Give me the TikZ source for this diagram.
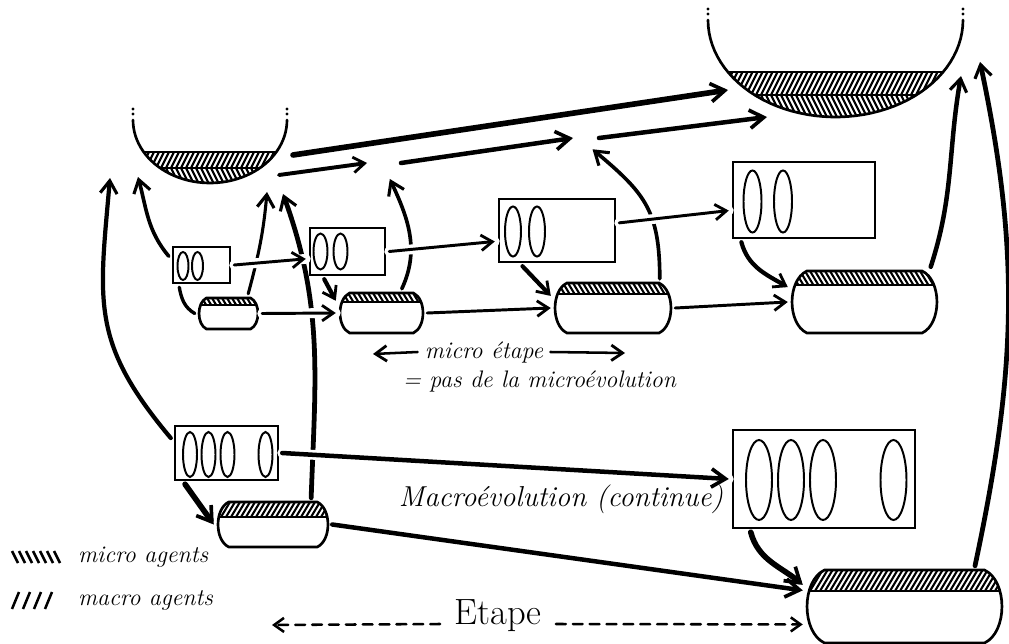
\documentclass[tikz,border=0pt]{standalone}
\usepackage{fontspec}
\usetikzlibrary{arrows.meta}

\tikzset{
  wh/.style 2 args={minimum width=#1*0.025cm, minimum height=#2*0.025cm,
    inner sep=0pt, outer sep=3pt},
  box/.style={draw, line width=2pt},
  agent/.style={line width=1.4pt},
  outline/.style={line width=1.9pt},
  hatch/.style={line width=1.5pt, line cap=butt},
  micro/.style={line width=2.1pt, -{Straight Barb[length=8pt, width=11pt, line width=2pt]}},
  macro/.style={line width=3.2pt, -{Straight Barb[length=10pt, width=13pt, line width=2.6pt]}},
  feed/.style={line width=2.6pt, -{Straight Barb[length=9pt, width=12pt, line width=2.2pt]}},
  over/.style={preaction={draw=white, line width=7pt, arrows=-}},
  dashline/.style={line width=1.8pt, dash pattern=on 7pt off 5pt,
    -{Straight Barb[length=7pt, width=10pt, line width=1.8pt]}},
  hand/.style={font=\itshape\fontsize{17}{19}\selectfont, inner sep=2pt},
}

% capsule: name, x, y, width, height, band, slope (1 = macro //, -1 = micro \\)
\newcommand{\capsule}[7]{%
  \node[wh={#4}{#5}] (#1) at (#2,#3) {};
  \pgfmathsetmacro\capL{#2-#4/2}\pgfmathsetmacro\capR{#2+#4/2}%
  \pgfmathsetmacro\capT{#3-#5/2}\pgfmathsetmacro\capB{#3+#5/2}%
  \pgfmathsetmacro\capD{0.24*#5}%
  \def\capShape{({\capL+\capD},\capT) -- ({\capR-\capD},\capT)
      .. controls ({\capR+0.33*\capD},{\capT+0.15*#5}) and ({\capR+0.33*\capD},{\capB-0.15*#5}) .. ({\capR-\capD},\capB)
      -- ({\capL+\capD},\capB)
      .. controls ({\capL-0.33*\capD},{\capB-0.15*#5}) and ({\capL-0.33*\capD},{\capT+0.15*#5}) .. ({\capL+\capD},\capT)
      -- cycle}%
  \begin{scope}
    \clip \capShape;
    \foreach \i in {0,...,45}
      \draw[hatch] ({\capL-12+\i*5},{\capT+#6*(1+(#7))/2}) -- ++({0.6*#6},{-1*(#7)*#6});
    \draw[outline] (\capL,{\capT+#6}) -- (\capR,{\capT+#6});
  \end{scope}
  \draw[outline] \capShape;
}

% bowl: name, centre x, rim y, x radius, depth, band top, band split
\newcommand{\bowl}[7]{%
  \node[wh={2*#4}{#5}] (#1) at (#2,{#3+#5/2}) {};
  \begin{scope}
    \clip plot[domain=0:180, samples=50] ({#2+#4*cos(\x)},{#3+#5*sin(\x)}) -- cycle;
    \foreach \i in {0,...,70} {
      \draw[hatch] ({#2-#4-12+\i*5},#7) -- ++({0.5*(#7-#6)},{#6-#7});
      \draw[hatch] ({#2-#4-12+\i*5},#7) -- ++({0.5*(#3+#5-#7)},{#3+#5-#7});
    }
    \draw[outline] ({#2-#4},#6) -- ({#2+#4},#6);
    \draw[line width=1.2pt] ({#2-#4},#7) -- ({#2+#4},#7);
  \end{scope}
  \draw[outline] plot[domain=0:180, samples=50] ({#2+#4*cos(\x)},{#3+#5*sin(\x)});
  \foreach \s in {-1,1}
    \fill ({#2+\s*#4},{#3-6}) circle[radius=1.6] ({#2+\s*#4},{#3-11}) circle[radius=1.6];
}

\begin{document}
\begin{tikzpicture}[x=0.025cm, y=-0.025cm, line cap=round]
\path[use as bounding box, fill=white] (0,0) rectangle (1009,644);

% aggregate states
\bowl{bowl1}{210}{120}{77}{63}{152}{168}
\bowl{bowl2}{835.5}{20}{127.5}{97}{72}{95}
\coordinate (bowl1-l) at (110,178);
\coordinate (bowl1-a) at (138,177);
\coordinate (bowl1-c) at (267,192);
\coordinate (bowl1-g) at (283,194);
\coordinate (bowl1-o) at (279,175);
\coordinate (bowl1-t) at (293,155);
\coordinate (bowl2-t) at (728,90);
\coordinate (bowl2-m) at (767,117);
\coordinate (bowl2-c) at (961,76);
\coordinate (bowl2-r) at (980,62);
\node[circle, wh={34}{34}, outer sep=0pt] (s1) at (384,163) {};
\node[circle, wh={26}{26}, outer sep=0pt] (s2) at (586,138) {};

% micro populations
\node[box, wh={57}{36}] (mb1) at (201.5,265) {};
\foreach \ax in {183,197.5} \draw[agent] (\ax,266) ellipse[x radius=5.5, y radius=14];
\node[box, wh={75}{47}] (mb2) at (347.5,251.5) {};
\foreach \ax in {320.5,340.5} \draw[agent] (\ax,251.5) ellipse[x radius=7, y radius=18];
\node[box, wh={116}{63}] (mb3) at (557,230.5) {};
\foreach \ax in {513,537} \draw[agent] (\ax,231.5) ellipse[x radius=8, y radius=25];
\node[box, wh={142}{76}] (mb4) at (804,200) {};
\foreach \ax in {752.5,783} \draw[agent] (\ax,201.5) ellipse[x radius=9, y radius=31];

\capsule{mc1}{228.5}{313.5}{59}{31}{7}{-1}
\capsule{mc2}{381.5}{313}{83}{40}{9}{-1}
\capsule{mc3}{613}{308}{116}{50}{11}{-1}
\capsule{mc4}{864.5}{302}{145}{62}{14}{-1}

% macro populations
\node[box, wh={103}{54}] (Mb1) at (226.5,453) {};
\foreach \ax in {190,208.5,227.5,265.5} \draw[agent] (\ax,454.5) ellipse[x radius=7, y radius=22.5];
\node[box, wh={182}{98}] (Mb2) at (824,479) {};
\foreach \ax in {759,791,823,893.5} \draw[agent] (\ax,480) ellipse[x radius=13, y radius=40];

\capsule{Mc1}{273}{524.5}{110}{45}{15}{1}
\capsule{Mc2}{904.5}{606.5}{195}{73}{21}{1}

% aggregation
\draw[macro, line width=4pt] (bowl1-t) -- (bowl2-t);
\draw[micro, line width=2.8pt] (bowl1-o) -- (s1.west);
\draw[macro] (s1.east) -- (s2.west);
\draw[macro] (s2.east) -- (bowl2-m);
\draw[feed] (mb1.165) to[out=130, in=-75] (bowl1-a);
\draw[line width=2.4pt] (mb1.-135) to[out=-80, in=150] (mc1.west);
\draw[feed, line width=2.2pt] (mc1.45) to[out=75, in=-95] (bowl1-c);
\draw[feed, line width=3.4pt] (Mc1.35) to[out=88, in=-70] (bowl1-g);
\draw[feed] (mc2.50) to[out=65, in=-65] (s1.-70);
\draw[feed] (mc3.32) to[out=90, in=-40, looseness=1.2] (s2.-60);
\draw[feed, line width=3.2pt] (mc4.28) to[out=72, in=-100] (bowl2-c);
\draw[feed, line width=3.4pt] (Mc2.30) to[out=78, in=-78] (bowl2-r);
\draw[feed, line width=3pt] (Mb1.165) to[out=130, in=-95, looseness=1.2] (bowl1-l);

% micro evolution
\draw[micro, over] (mb1.east) -- (mb2.190);
\draw[micro, over] (mc1.east) -- (mc2.west);
\draw[micro, line width=3pt] (mb2.-130) -- (mc2.165);
\draw[micro, over] (mb2.east) -- (mb3.190);
\draw[micro] (mc2.east) -- (mc3.west);
\draw[micro, line width=3pt] (mb3.-134) -- (mc3.169);
\draw[micro, over] (mb3.7) -- (mb4.188);
\draw[micro] (mc3.east) -- (mc4.west);
\draw[micro, line width=3pt] (mb4.-146) to[out=-75, in=150] (mc4.169);

% macro evolution
\draw[macro, line width=4pt] (Mb1.-143) -- (Mc1.west);
\draw[macro, over] (Mb1.east) -- (Mb2.west);
\draw[macro] (Mc1.east) -- (Mc2.171);
\draw[macro, line width=4pt] (Mb2.-144) to[out=-75, in=140] (Mc2.168);

% labels
\node[hand, inner xsep=5pt] (me) at (484,352) {micro étape};
\coordinate (me-l) at (373,354);
\coordinate (me-r) at (625,353);
\draw[micro, line width=1.8pt] (me.west) -- (me-l);
\draw[micro, line width=1.8pt] (me.east) -- (me-r);
\node[hand, anchor=west] (pas) at (400,381) {= pas de la microévolution};
\node[hand, font=\itshape\fontsize{20.5}{23}\selectfont] (mac) at (561,499) {Macroévolution (continue)};
\node[font=\fontsize{26}{28}\selectfont, anchor=base, inner sep=4pt, inner xsep=10pt] (et) at (498,624) {Etape};
\coordinate (et-l) at (272,625);
\draw[dashline] (et.base west) -- (et-l);
\draw[dashline] (et.base east) -- (Mc2.190);

% legend
\foreach \i in {0,...,6} \draw[hatch, line width=1.8pt] ({12+\i*7},551) -- ++(6,12);
\foreach \i in {0,...,3} \draw[hatch, line width=1.8pt] ({12+\i*11},609) -- ++(7,-17);
\node[hand, anchor=west] (lmi) at (75,557) {micro agents};
\node[hand, anchor=west] (lma) at (75,600) {macro agents};

\end{tikzpicture}
\end{document}
